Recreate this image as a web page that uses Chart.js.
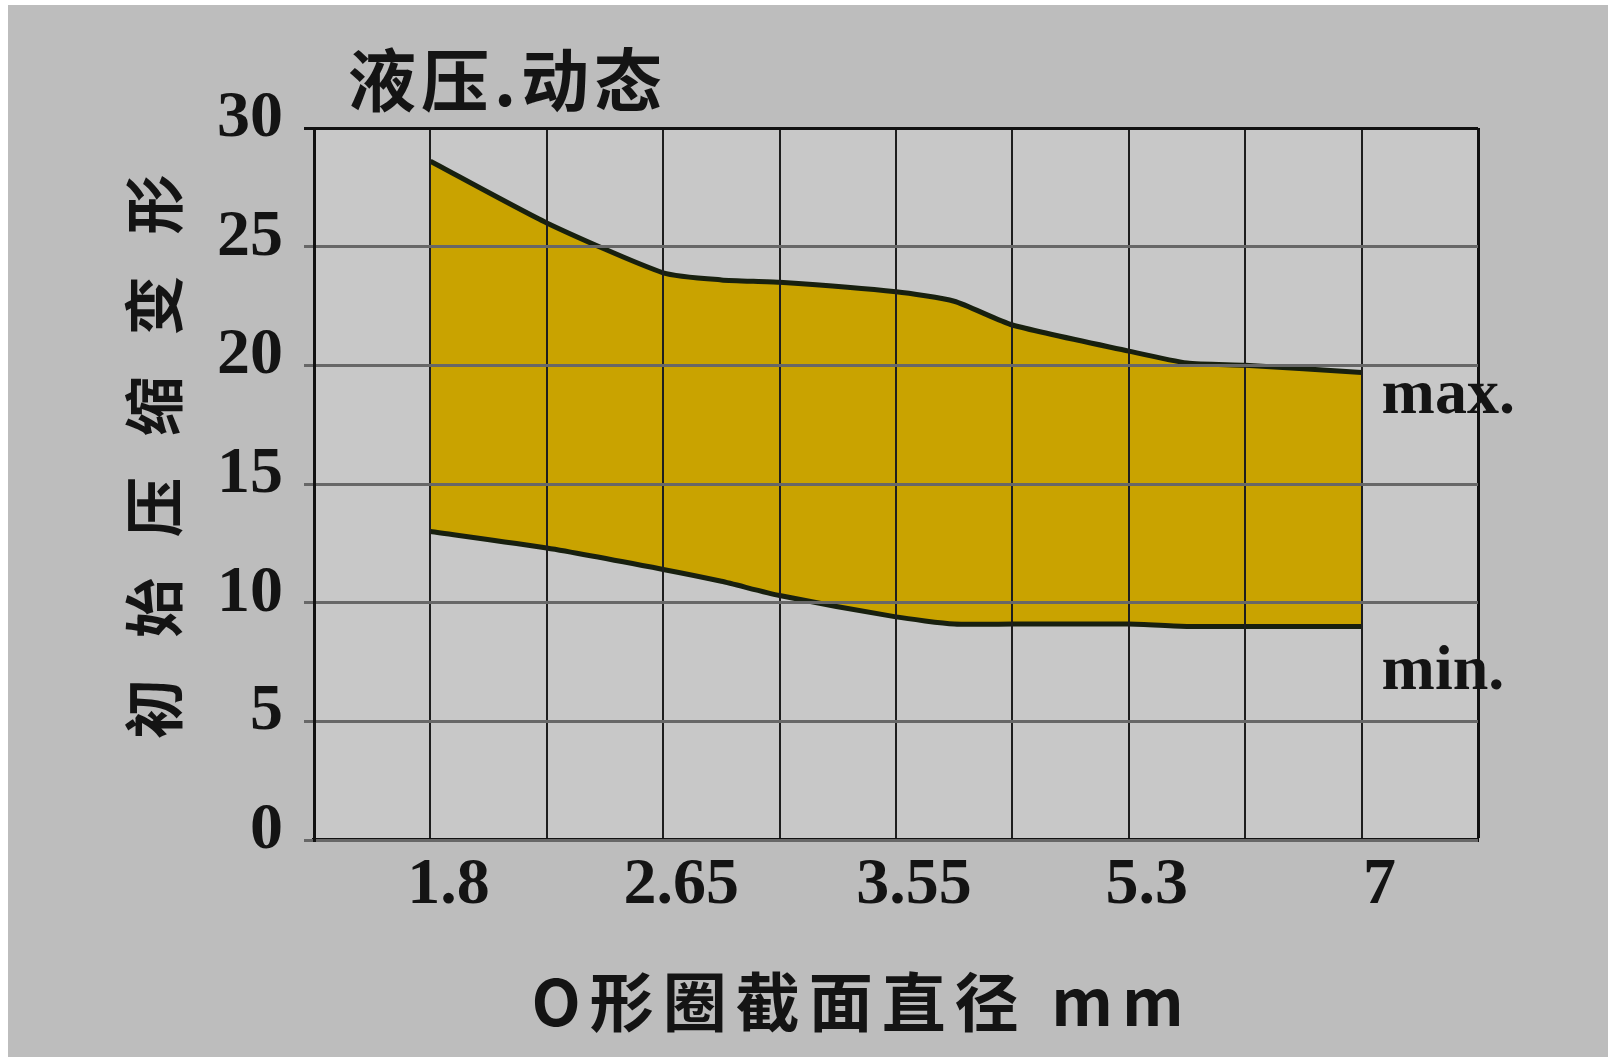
<!DOCTYPE html>
<html><head><meta charset="utf-8">
<script src="https://cdn.jsdelivr.net/npm/chart.js@4/dist/chart.umd.min.js"></script>
<style>html,body{margin:0;padding:0;background:#fff;}canvas{display:block;}</style>
</head><body>
<canvas id="c" width="1613" height="1057"></canvas>
<script>
const xPositions = [1, 2, 3, 3.5, 4, 5, 5.5, 6, 7, 7.5, 8, 9];
const maxValues  = [28.6, 26.0, 23.9, 23.6, 23.5, 23.1, 22.7, 21.7, 20.6, 20.1, 20.0, 19.7];
const minValues  = [13.0, 12.3, 11.4, 10.9, 10.3, 9.4, 9.1, 9.1, 9.1, 9.0, 9.0, 9.0];
const xTickLabels = {1: '1.8', 3: '2.65', 5: '3.55', 7: '5.3', 9: '7'};
const chartTitle = '液压.动态';
const xTitle = 'O形圈截面直径 mm';
const yTitle = '初始压缩变形';
const seriesLabels = ['max.', 'min.'];

const W = 1613, H = 1057;
const serif = '"Liberation Serif", "DejaVu Serif", serif';
const cjk = '"Noto Sans CJK SC", "Noto Sans", sans-serif';

const annot = {
  id: 'annot',
  beforeDraw(chart) {
    const {ctx, chartArea: a} = chart;
    ctx.save();
    ctx.fillStyle = '#ffffff';
    ctx.fillRect(0, 0, W, H);
    ctx.fillStyle = '#bdbdbd';
    ctx.fillRect(8, 5, W - 13, H - 5);
    ctx.fillStyle = '#c8c8c8';
    ctx.fillRect(a.left, a.top, a.right - a.left, a.bottom - a.top);
    ctx.restore();
  },
  afterDraw(chart) {
    const {ctx, chartArea: a, scales} = chart;
    ctx.save();
    ctx.fillStyle = '#141414';
    ctx.textBaseline = 'middle';
    // title
    ctx.font = 'bold 68px ' + cjk;
    ctx.textAlign = 'left';
    try { ctx.letterSpacing = '5px'; } catch (e) {}
    ctx.fillText(chartTitle, a.left + 34, 80);
    // x title
    ctx.font = 'bold 64px ' + cjk;
    ctx.textAlign = 'center';
    try { ctx.letterSpacing = '9px'; } catch (e) {}
    ctx.fillText(xTitle, 862, 1002);
    try { ctx.letterSpacing = '0px'; } catch (e) {}
    // series end labels
    ctx.font = 'bold 64px ' + serif;
    ctx.textAlign = 'left';
    const xr = scales.x.getPixelForValue(xPositions[xPositions.length - 1]) + 20;
    ctx.fillText(seriesLabels[0], xr, scales.y.getPixelForValue(maxValues[maxValues.length - 1]) + 24);
    ctx.fillText(seriesLabels[1], xr, scales.y.getPixelForValue(minValues[minValues.length - 1]) + 46);
    ctx.restore();
  }
};

new Chart(document.getElementById('c'), {
  type: 'line',
  data: {
    datasets: [
      {
        label: seriesLabels[1],
        data: xPositions.map((x, i) => ({x, y: minValues[i]})),
        borderColor: '#18200f',
        borderWidth: 5,
        pointRadius: 0,
        tension: 0.2,
        fill: false
      },
      {
        label: seriesLabels[0],
        data: xPositions.map((x, i) => ({x, y: maxValues[i]})),
        borderColor: '#18200f',
        borderWidth: 5,
        pointRadius: 0,
        tension: 0.2,
        fill: '-1',
        backgroundColor: '#c9a300'
      }
    ]
  },
  options: {
    responsive: false,
    animation: false,
    devicePixelRatio: 1,
    layout: {padding: {top: 128, right: 135, bottom: 0, left: 0}},
    plugins: {legend: {display: false}, tooltip: {enabled: false}, title: {display: false}},
    scales: {
      x: {
        type: 'linear', min: 0, max: 10,
        afterFit(s) { s.height = H - 840; },
        grid: {
          z: 1,
          drawTicks: false,
          color: (c) => c.tick && c.tick.value === 10 ? '#111111' : '#1e1e1e',
          lineWidth: (c) => c.tick && c.tick.value === 10 ? 3 : 2
        },
        border: {display: true, color: '#111111', width: 4, z: 1},
        ticks: {
          stepSize: 1, autoSkip: false, maxRotation: 0, padding: 6, labelOffset: 18,
          color: '#141414',
          font: {family: serif, size: 66, weight: 'bold'},
          callback: (v) => xTickLabels[v] ?? ''
        }
      },
      y: {
        min: 0, max: 30,
        afterFit(s) { s.width = 314; },
        grid: {
          z: 1,
          tickLength: 10,
          color: (c) => c.tick && c.tick.value === 30 ? '#111111' : '#676767',
          lineWidth: 3
        },
        border: {display: true, color: '#111111', width: 3, z: 1},
        ticks: {
          stepSize: 5, padding: 21, labelOffset: -9,
          color: '#141414',
          font: {family: serif, size: 66, weight: 'bold'}
        },
        title: {
          display: true,
          text: '    ' + yTitle.split('').join('   '),
          color: '#141414',
          font: {family: cjk, size: 60, weight: 'bold'},
          padding: {top: 118, bottom: 0}
        }
      }
    }
  },
  plugins: [annot]
});
</script>
</body></html>
